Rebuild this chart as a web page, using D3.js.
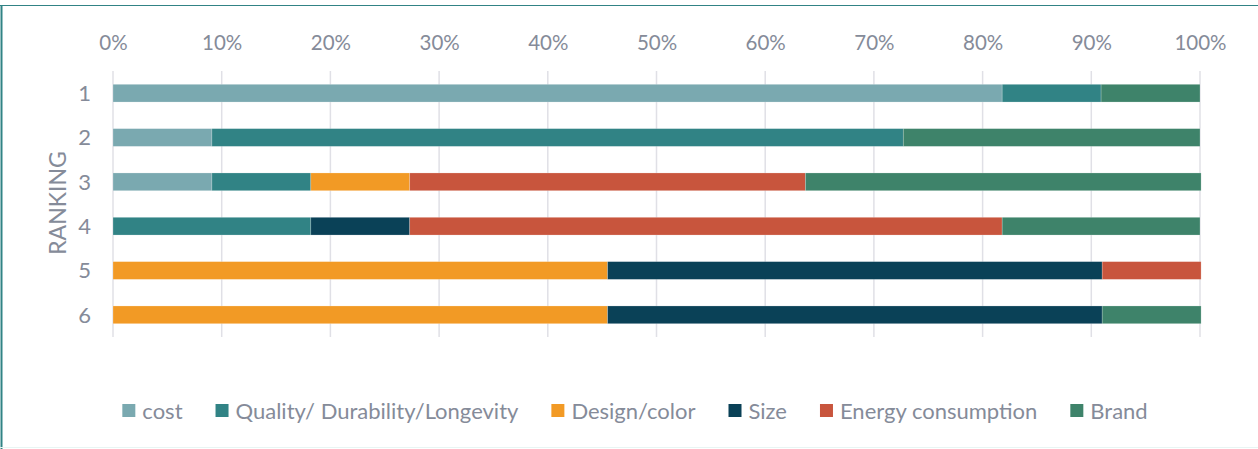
<!DOCTYPE html>
<html><head><meta charset="utf-8">
<script src="https://cdn.jsdelivr.net/npm/d3@7"></script>
<style>html,body{margin:0;padding:0;background:#fff;}svg{display:block;font-family:Lato,sans-serif;}</style>
</head><body><svg id="c" width="1258" height="449"></svg>
<script>
const rankings = ["1","2","3","4","5","6"];
const seriesNames = ["cost","Quality/ Durability/Longevity","Design/color","Size","Energy consumption","Brand"];
const seriesColors = ["#7aa9b0","#318385","#f29a25","#0a4157","#c8553d","#3e836a"];
// percent shares per ranking (each row sums to 100)
const cost       = [81.8, 9.1, 9.1, 0,    0,    0];
const quality    = [9.1, 63.6, 9.1, 18.2, 0,    0];
const design     = [0,    0,   9.1, 0,    45.5, 45.5];
const size       = [0,    0,   0,   9.1,  45.5, 45.5];
const energy     = [0,    0,  36.4, 54.5, 9.1,  0];
const brand      = [9.1, 27.3, 36.4, 18.2, 0,    9.1];
const tickValues = [0,10,20,30,40,50,60,70,80,90,100];
const axisTitle = "RANKING";

const FONT = "Lato,sans-serif";
const seriesData = [cost, quality, design, size, energy, brand];
const svg = d3.select("#c");
const W = 1258, H = 449;

svg.append("rect").attr("x",0).attr("y",0).attr("width",W).attr("height",H).attr("fill","#fff");
svg.append("line").attr("x1",0).attr("x2",W).attr("y1",5.5).attr("y2",5.5).attr("stroke","#318385").attr("stroke-width",1.2);
svg.append("line").attr("x1",1.5).attr("x2",1.5).attr("y1",5).attr("y2",H).attr("stroke","#318385").attr("stroke-width",2);
svg.append("line").attr("x1",0).attr("x2",W).attr("y1",447.5).attr("y2",447.5).attr("stroke","#e8f5f3").attr("stroke-width",1);

const x = d3.scaleLinear().domain([0,100]).range([113,1200]);
const y = d3.scaleBand().domain(rankings).range([71,337]).paddingInner(0.6).paddingOuter(0.3);

svg.append("g").selectAll("line").data(tickValues).join("line")
  .attr("x1",d=>x(d)).attr("x2",d=>x(d)).attr("y1",71).attr("y2",337)
  .attr("stroke","#e0e0e6").attr("stroke-width",1.5);

const xAxis = d3.axisTop(x).tickValues(tickValues).tickFormat(d=>d+"%").tickSize(0).tickPadding(0);
const gx = svg.append("g").attr("transform","translate(0,50)").call(xAxis);
gx.select(".domain").remove();
gx.selectAll("text").attr("fill","#858b99").style("font-size","20.5px").style("font-family",FONT);

const yAxis = d3.axisLeft(y).tickSize(0).tickPadding(0);
const gy = svg.append("g").attr("transform","translate(91,0)").call(yAxis);
gy.select(".domain").remove();
gy.selectAll("text").attr("fill","#858b99").style("font-size","22px").style("font-family",FONT).attr("dy","0.35em");

svg.append("text").attr("transform","translate(66,203) rotate(-90)").attr("text-anchor","middle")
  .attr("fill","#858b99").style("font-size","23px").style("font-family",FONT).text(axisTitle);

const rows = rankings.map((r,i)=>{const o={rank:r}; seriesNames.forEach((s,j)=>o[s]=seriesData[j][i]); return o;});
const stack = d3.stack().keys(seriesNames)(rows);
svg.append("g").selectAll("g").data(stack).join("g")
  .attr("fill",(d,i)=>seriesColors[i])
  .selectAll("rect").data(d=>d.filter(p=>p[1]-p[0]>0)).join("rect")
  .attr("x",d=>x(d[0])).attr("width",d=>x(d[1])-x(d[0]))
  .attr("y",d=>y(d.data.rank)).attr("height",y.bandwidth())
  .attr("stroke","rgba(255,255,255,0.35)").attr("stroke-width",0.6);

const leg = svg.append("g");
let cx = 0;
const GAP = 33;
seriesNames.forEach((s,i)=>{
  const g = leg.append("g").attr("transform",`translate(${cx},0)`);
  g.append("rect").attr("x",0).attr("y",-7).attr("width",13).attr("height",13).attr("fill",seriesColors[i]);
  const t = g.append("text").attr("x",20).attr("y",0).attr("dy","0.35em").attr("fill","#858b99").style("font-size","22px").style("font-family",FONT).text(s);
  const w = t.node().getComputedTextLength();
  cx += 20 + w + GAP;
});
const total = cx - GAP;
leg.attr("transform",`translate(${635 - total/2},411)`);
</script></body></html>
